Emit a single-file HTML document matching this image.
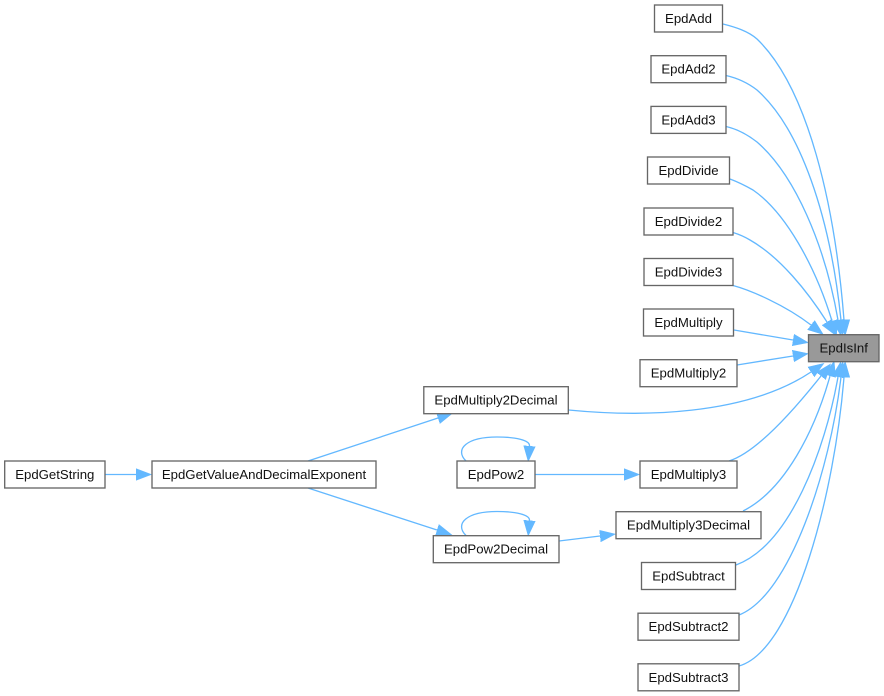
<!DOCTYPE html>
<html><head><meta charset="utf-8"><style>
html,body{margin:0;padding:0;background:#fff}
svg{display:block}
text{font-family:"Liberation Sans",Arial,sans-serif;font-size:13.2px;text-anchor:middle;fill:#111}
.b{fill:#fff;stroke:#666;stroke-width:1.33}
.e{fill:none;stroke:#63B8FF;stroke-width:1.33;marker-end:url(#a)}
</style></head><body>
<svg width="884" height="696" viewBox="0 0 884 696" xmlns="http://www.w3.org/2000/svg">
<defs><marker id="a" markerUnits="userSpaceOnUse" markerWidth="18" markerHeight="14" refX="0" refY="7" orient="auto"><path d="M0,1.2 L15.3,7 L0,12.8 Z" fill="#63B8FF" stroke="#63B8FF" stroke-width="0.6"/></marker></defs>
<path class="e" d="M723,24 C735,27 748,31 757,39 C808,88 835,205 844,320"/>
<path class="e" d="M726,75.5 C737,78 748,83 757,90 C800,128 830,215 841,320"/>
<path class="e" d="M726,126.5 C737,129 748,135 757,142 C795,175 825,245 838,320"/>
<path class="e" d="M730,179 C738,182 746,186 753,190 C785,212 815,265 832,321"/>
<path class="e" d="M733,232.5 C738,234 745,237 750,240 C780,257 808,292 827,322"/>
<path class="e" d="M733,285.5 C750,290 785,305 811,325"/>
<path class="e" d="M734,330 L793,340"/>
<path class="e" d="M737,365 L793,356"/>
<path class="e" d="M568.5,410 C640,417 745,416 811,372"/>
<path class="e" d="M729,461 C755,453 790,415 821,376"/>
<path class="e" d="M743,511 C785,490 815,430 830,376"/>
<path class="e" d="M736,565 C790,545 825,450 838,377"/>
<path class="e" d="M739,615 C790,595 830,470 841,377"/>
<path class="e" d="M739,666 C795,650 835,490 844,377"/>
<path class="e" d="M535.5,474.5 L624,474.5"/>
<path class="e" d="M559,541 L600,536"/>
<path class="e" d="M308,461 L438,418"/>
<path class="e" d="M308,488 L437,530"/>
<path class="e" d="M105.5,474.5 L136,474.5"/>
<path class="e" d="M466,461 C454,449 467,437 497,437 C515,437 530,440 529.5,446"/>
<path class="e" d="M466,535.5 C454,523.5 467,511.5 497,511.5 C515,511.5 530,514.5 529.5,520.5"/>
<rect class="b" x="654.5" y="5" width="68" height="27"/><text x="688.5" y="23">EpdAdd</text>
<rect class="b" x="651" y="55.7" width="75" height="27"/><text x="688.5" y="73.7">EpdAdd2</text>
<rect class="b" x="651" y="106.4" width="75" height="27"/><text x="688.5" y="124.4">EpdAdd3</text>
<rect class="b" x="647.5" y="157" width="82" height="27"/><text x="688.5" y="175">EpdDivide</text>
<rect class="b" x="644" y="208" width="89" height="27"/><text x="688.5" y="226">EpdDivide2</text>
<rect class="b" x="644" y="258.5" width="89" height="27"/><text x="688.5" y="276.5">EpdDivide3</text>
<rect class="b" x="643.5" y="309" width="90" height="27"/><text x="688.5" y="327">EpdMultiply</text>
<rect class="b" x="640" y="359.7" width="97" height="27"/><text x="688.5" y="377.7">EpdMultiply2</text>
<rect class="b" x="640" y="461" width="97" height="27"/><text x="688.5" y="479">EpdMultiply3</text>
<rect class="b" x="616" y="511.7" width="145" height="27"/><text x="688.5" y="529.7">EpdMultiply3Decimal</text>
<rect class="b" x="641.5" y="562.5" width="94" height="27"/><text x="688.5" y="580.5">EpdSubtract</text>
<rect class="b" x="638" y="613.2" width="101" height="27"/><text x="688.5" y="631.2">EpdSubtract2</text>
<rect class="b" x="638" y="663.8" width="101" height="27"/><text x="688.5" y="681.8">EpdSubtract3</text>
<rect x="808.5" y="334.7" width="70.5" height="27" fill="#999" stroke="#666" stroke-width="1.33"/><text x="843.7" y="352.7">EpdIsInf</text>
<rect class="b" x="423.8" y="386.7" width="144.5" height="27"/><text x="496" y="404.7">EpdMultiply2Decimal</text>
<rect class="b" x="457" y="461" width="78" height="27"/><text x="496" y="479">EpdPow2</text>
<rect class="b" x="433.3" y="535.7" width="125.7" height="27"/><text x="496" y="553.7">EpdPow2Decimal</text>
<rect class="b" x="152" y="461" width="224" height="27"/><text x="264" y="479">EpdGetValueAndDecimalExponent</text>
<rect class="b" x="4.7" y="461" width="100.3" height="27"/><text x="54.8" y="479">EpdGetString</text>
</svg>
</body></html>
